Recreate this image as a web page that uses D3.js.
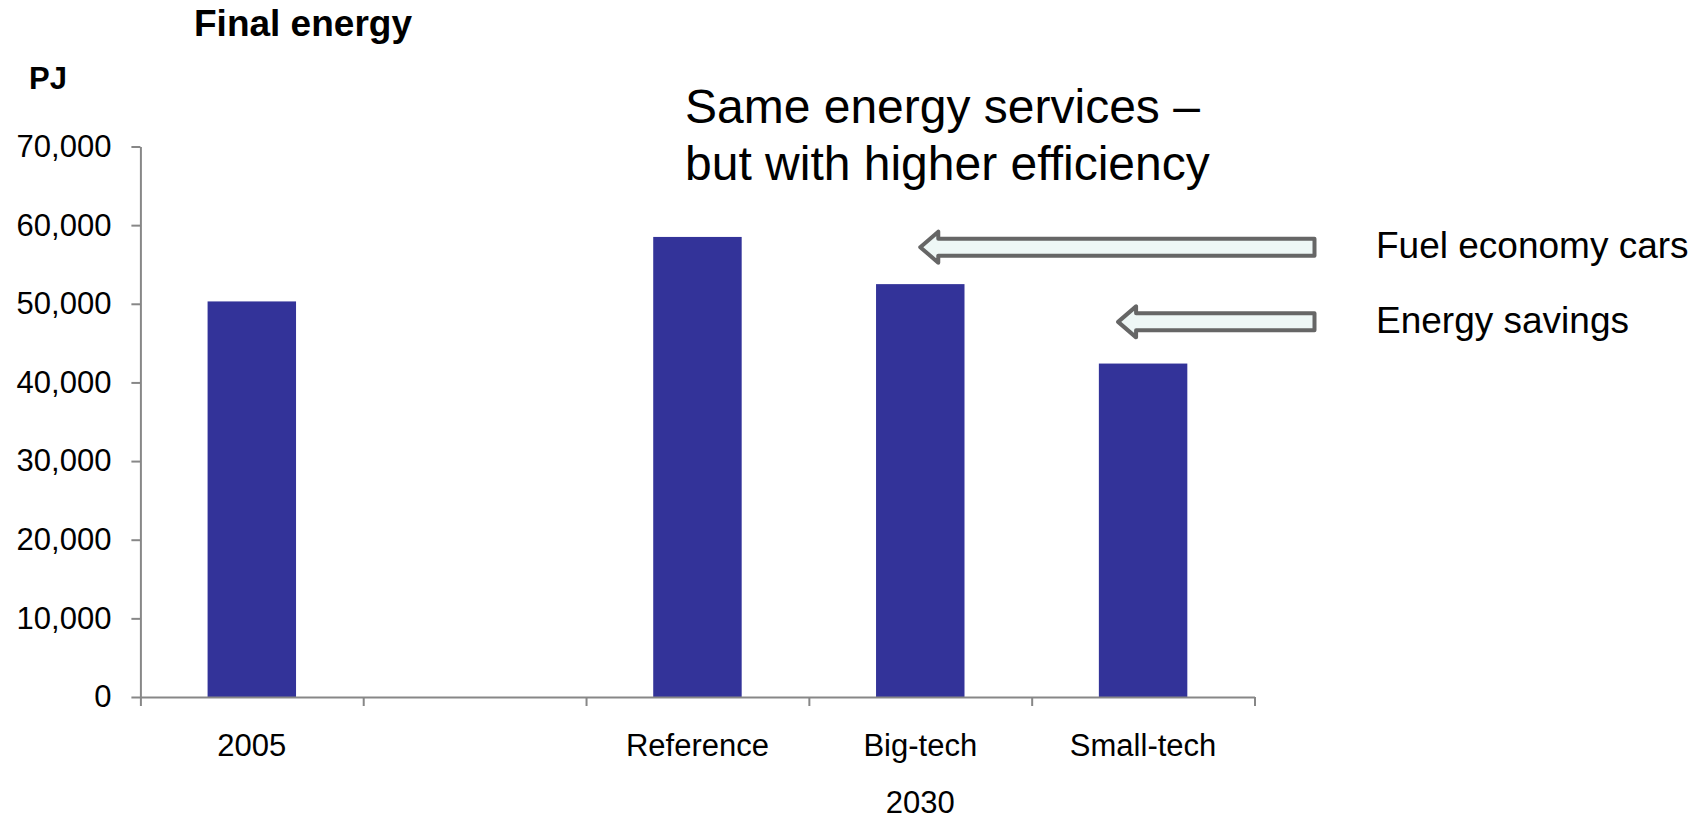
<!DOCTYPE html>
<html>
<head>
<meta charset="utf-8">
<script src="https://cdn.jsdelivr.net/npm/d3@7/dist/d3.min.js"></script>
<style>
  html, body { margin: 0; padding: 0; background: #fff; }
  svg { display: block; font-family: "Liberation Sans", Arial, Helvetica, sans-serif; }
</style>
</head>
<body>
<svg id="chart" width="1706" height="822"></svg>
<script>
// Final energy demand, PJ
const categories = ["2005", "gap", "Reference", "Big-tech", "Small-tech"];
const categoryLabels = ["2005", "", "Reference", "Big-tech", "Small-tech"];
const energyPJ = [50300, null, 58500, 52500, 42400];
const yTicks = [0, 10000, 20000, 30000, 40000, 50000, 60000, 70000];
const groupLabel = "2030";

// Annotation arrows: category they point at and the level (PJ) they sit on
const arrowNotes = ["Fuel economy cars", "Energy savings"];
const arrowTargets = ["Big-tech", "Small-tech"];
const arrowLevels = [57200, 47700];

const svg = d3.select("#chart");
const plot = { left: 140.4, right: 1254.5, top: 146.5, bottom: 697 };

const y = d3.scaleLinear().domain([0, 70000]).range([plot.bottom, plot.top]);
const x = d3.scaleBand()
  .domain(categories)
  .range([plot.left, plot.right])
  .paddingInner(0.603)
  .paddingOuter(0.3015);

const axisColor = "#878787";

// Bars
svg.append("g")
  .selectAll("rect")
  .data(categories.map((c, i) => ({ c, v: energyPJ[i] })).filter(d => d.v != null))
  .join("rect")
  .attr("x", d => x(d.c))
  .attr("y", d => y(d.v))
  .attr("width", x.bandwidth())
  .attr("height", d => y(0) - y(d.v))
  .attr("fill", "#333399");

// Y axis
const yAxis = svg.append("g")
  .attr("transform", `translate(${plot.left},0)`)
  .call(d3.axisLeft(y).tickValues(yTicks).tickFormat(d3.format(",")).tickSize(9).tickSizeOuter(0).tickPadding(20));
yAxis.select(".domain").attr("stroke", axisColor).attr("stroke-width", 2);
yAxis.selectAll(".tick line").attr("stroke", axisColor).attr("stroke-width", 2);
yAxis.selectAll(".tick text").attr("font-size", 31).attr("fill", "#000")
  .attr("font-family", "'Liberation Sans', Arial, sans-serif");

// X axis: tick marks sit on the category boundaries
const boundary = d3.scaleLinear().domain([0, categories.length]).range([plot.left, plot.right]);
const xAxis = svg.append("g")
  .attr("transform", `translate(0,${plot.bottom})`)
  .call(d3.axisBottom(boundary).tickValues(d3.range(categories.length + 1)).tickFormat("").tickSize(9).tickSizeOuter(0));
xAxis.select(".domain").attr("stroke", axisColor).attr("stroke-width", 2);
xAxis.selectAll(".tick line").attr("stroke", axisColor).attr("stroke-width", 2);

// Category labels
const xLabels = svg.append("g")
  .attr("transform", `translate(0,${plot.bottom})`)
  .call(d3.axisBottom(x).tickSize(0).tickPadding(0).tickFormat((d, i) => categoryLabels[i]));
xLabels.select(".domain").remove();
xLabels.selectAll(".tick text")
  .attr("font-size", 31).attr("fill", "#000").attr("dy", null).attr("y", 59)
  .attr("font-family", "'Liberation Sans', Arial, sans-serif");

// Group label under the 2030 scenarios
const groupStart = x("Reference") - x.step() * x.paddingOuter();
const groupEnd = plot.right;
svg.append("text")
  .attr("x", (groupStart + groupEnd) / 2)
  .attr("y", 813)
  .attr("text-anchor", "middle")
  .attr("font-size", 31)
  .text(groupLabel);

// Titles
svg.append("text").attr("x", 194).attr("y", 36)
  .attr("font-size", 37).attr("font-weight", "bold").text("Final energy");
svg.append("text").attr("x", 29).attr("y", 89)
  .attr("font-size", 31).attr("font-weight", "bold").text("PJ");

// Headline annotation
const headline = svg.append("text").attr("x", 685).attr("font-size", 48);
headline.append("tspan").attr("x", 685).attr("y", 123).text("Same energy services \u2013");
headline.append("tspan").attr("x", 685).attr("y", 180).text("but with higher efficiency");

// Block arrows pointing left toward the scenario bars
const tailX = plot.right + 60;
const shaftHalf = 8.5, headHalf = 15.5, headLen = 18;
const tipOffsets = [0, -25];
arrowTargets.forEach((cat, i) => {
  const tipX = x(cat) + x.bandwidth() / 2 + tipOffsets[i];
  const cy = y(arrowLevels[i]);
  const pts = [
    [tipX, cy],
    [tipX + headLen, cy - headHalf],
    [tipX + headLen, cy - shaftHalf],
    [tailX, cy - shaftHalf],
    [tailX, cy + shaftHalf],
    [tipX + headLen, cy + shaftHalf],
    [tipX + headLen, cy + headHalf]
  ];
  svg.append("path")
    .attr("d", d3.line()(pts) + "Z")
    .attr("fill", "#eef7f6")
    .attr("stroke", "#666666")
    .attr("stroke-width", 4)
    .attr("stroke-linejoin", "round");
  svg.append("text")
    .attr("x", 1376)
    .attr("y", cy + 11)
    .attr("font-size", 37)
    .text(arrowNotes[i]);
});
</script>
</body>
</html>
